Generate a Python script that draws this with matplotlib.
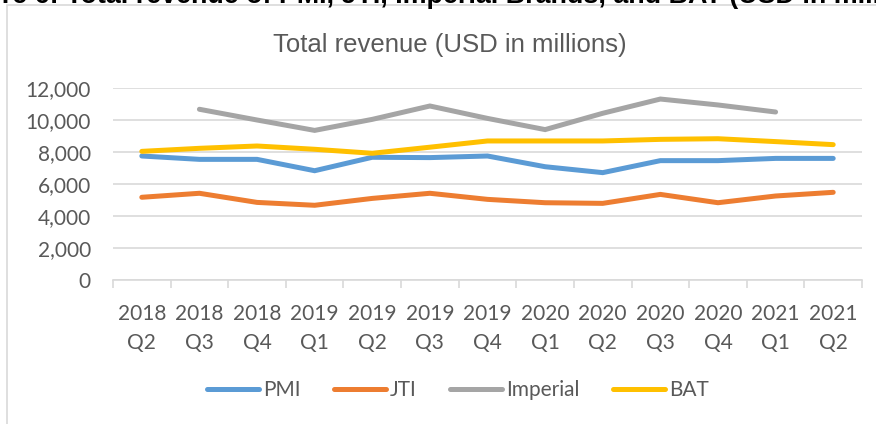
import matplotlib
matplotlib.use('Agg')
import matplotlib.pyplot as plt
from matplotlib.patches import Rectangle
from matplotlib.ticker import FuncFormatter
import numpy as np


quarters = ['2018\nQ2', '2018\nQ3', '2018\nQ4', '2019\nQ1', '2019\nQ2', '2019\nQ3', '2019\nQ4',
            '2020\nQ1', '2020\nQ2', '2020\nQ3', '2020\nQ4', '2021\nQ1', '2021\nQ2']

pmi = [7750, 7540, 7540, 6830, 7670, 7650, 7750, 7080, 6710, 7460, 7460, 7600, 7600]
jti = [5170, 5420, 4850, 4670, 5100, 5420, 5040, 4830, 4790, 5350, 4830, 5250, 5480]
imperial = [np.nan, 10670, 10000, 9350, 10040, 10875, 10100, 9400, 10420, 11310, 10940, 10500, np.nan]
bat = [8040, 8230, 8375, 8170, 7920, 8300, 8690, 8690, 8690, 8790, 8830, 8650, 8460]

series = [('PMI', pmi, '#5B9BD5'), ('JTI', jti, '#ED7D31'),
          ('Imperial', imperial, '#A5A5A5'), ('BAT', bat, '#FFC000')]

W, H = 876, 424
TXT = '#595959'
GRID = '#d9d9d9'
LAB_FONT = ['Lato', 'DejaVu Sans']


def main():
    fig = plt.figure(figsize=(W / 100, H / 100), dpi=100)

    # outer chart border (cut by the image edge on the right and bottom)
    fig.patches.append(Rectangle((7 / W, -0.5), 2, 1.5 - 5 / H, transform=fig.transFigure,
                                 fill=False, edgecolor=GRID, linewidth=1.2))

    # caption of the document, cropped at the top edge
    fig.text(-55 / W, 1 - 3 / H,
             'Figure 6: Total revenue of PMI, JTI, Imperial Brands, and BAT (USD in millions)',
             family='Liberation Sans', weight='bold', fontsize=19.4, color='black',
             ha='left', va='baseline')

    fig.text(450 / W, 1 - 45 / H, 'Total revenue (USD in millions)', family='Liberation Sans',
             fontsize=18.5, color=TXT, ha='center', va='center')

    ax = fig.add_axes([113 / W, 1 - 280 / H, (862 - 113) / W, (280 - 88) / H])
    x = np.arange(len(quarters))
    for name, vals, col in series:
        ax.plot(x, vals, color=col, linewidth=3.6, solid_capstyle='round',
                solid_joinstyle='miter', label=name)

    ax.set_xlim(-0.5, len(quarters) - 0.5)
    ax.set_ylim(0, 12000)
    ax.set_yticks(np.arange(0, 12001, 2000))
    ax.yaxis.set_major_formatter(FuncFormatter(lambda v, p: f'{int(v):,}'))
    ax.grid(axis='y', color=GRID, linewidth=1.2)
    ax.set_axisbelow(True)

    ax.set_xticks(np.arange(-0.5, len(quarters)), [''] * (len(quarters) + 1))
    ax.set_xticks(x, quarters, minor=True)
    ax.tick_params(axis='x', which='major', length=6, width=1.2, color=GRID)
    ax.tick_params(axis='x', which='minor', length=0, pad=17, labelsize=15, labelcolor=TXT)
    ax.tick_params(axis='y', length=0, pad=16, labelsize=15, labelcolor=TXT)
    for lab in ax.get_xticklabels(minor=True) + ax.get_yticklabels():
        lab.set_family(LAB_FONT)
    for lab in ax.get_xticklabels(minor=True):
        lab.set_linespacing(1.6)

    for s in ['top', 'right', 'left']:
        ax.spines[s].set_visible(False)
    ax.spines['bottom'].set_color(GRID)
    ax.spines['bottom'].set_linewidth(1.2)

    leg = fig.legend(loc='center', bbox_to_anchor=(458 / W, 1 - 390 / H), ncol=4, frameon=False,
                     handlelength=2.5, handletextpad=0.2, columnspacing=1.6,
                     prop={'family': LAB_FONT, 'size': 15})
    for t in leg.get_texts():
        t.set_color(TXT)

    fig.savefig('out.png', dpi=100)


if __name__ == '__main__':
    main()
